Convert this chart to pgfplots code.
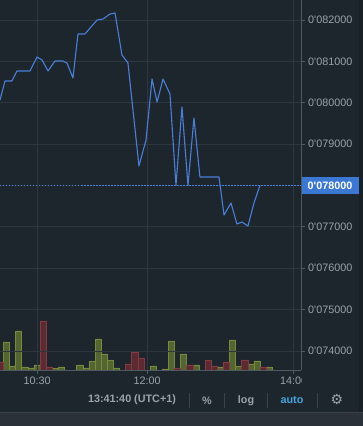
\documentclass[border=0pt]{standalone}
\usepackage{pgfplots}
\pgfplotsset{compat=1.18}
\usepackage{fontspec}
\setmainfont{Liberation Sans}[Ligatures=TeXOff]
\newfontfamily\dejavu{DejaVu Sans}
\definecolor{bgc}{HTML}{1E262D}
\definecolor{bandc}{HTML}{2A3138}
\definecolor{stripc}{HTML}{192026}
\definecolor{gridc}{HTML}{2D373F}
\definecolor{axisc}{HTML}{4F5962}
\definecolor{labc}{HTML}{9AA2AA}
\definecolor{linec}{HTML}{4A7FD8}
\definecolor{lastc}{HTML}{3A78D4}
\definecolor{autoc}{HTML}{45A5DE}
\definecolor{sepc}{HTML}{3A434B}
\definecolor{gfill}{HTML}{55652F}
\definecolor{gdraw}{HTML}{77893F}
\definecolor{rfill}{HTML}{5E2A31}
\definecolor{rdraw}{HTML}{823A43}
\begin{document}
\begin{tikzpicture}[x=1pt,y=1pt]
\fill[bgc] (0,0) rectangle (363,426);
\fill[stripc] (359,14) rectangle (363,426);
\fill[bandc] (0,0) rectangle (363,13.5);
\draw[sepc, line width=0.8pt] (0,13.5) -- (363,13.5);
% volume axis
\begin{axis}[
  at={(0pt,56pt)}, anchor=south west, scale only axis,
  width=301pt, height=370pt,
  xmin=599.7, xmax=846, ymin=0, ymax=370,
  axis lines=none, ticks=none, clip=true,
]
\addplot[ybar, bar width=5, bar shift=0pt, fill=gfill, draw=gdraw, line width=0.6pt] coordinates {
(605,28) (610,4) (615,39) (620,3) (625,2) (630,5) (645,1.5) (650,3)
(665,5) (670,2) (675,9) (680,31) (685,16) (690,10) (695,2)
(725,4) (735,1) (740,29) (750,16) (760,5) (780,3) (790,30) (795,4)
(805,6) (810,9) (820,3)
};
\addplot[ybar, bar width=5, bar shift=0pt, fill=rfill, draw=rdraw, line width=0.6pt] coordinates {
(600,8) (635,49) (640,3) (705,6) (710,18) (715,12) (745,2) (755,5)
(770,10) (775,4) (785,8) (800,10) (815,3)
};
\end{axis}
% price axis
\begin{axis}[
  at={(0pt,56pt)}, anchor=south west, scale only axis,
  width=301pt, height=370pt,
  xmin=599.7, xmax=846, ymin=0.0735408, ymax=0.0824834,
  axis x line*=bottom, axis y line*=right,
  axis line style={draw=axisc, line width=0.8pt, -},
  xtick={630,720,840}, xticklabels={10:30,12:00,14:00},
  ytick={0.074,0.075,0.076,0.077,0.078,0.079,0.080,0.081,0.082},
  yticklabels={0'074000,0'075000,0'076000,0'077000,0'078000,0'079000,0'080000,0'081000,0'082000},
  grid=major, major grid style={draw=gridc, line width=0.8pt},
  tick align=outside, major tick length=4pt,
  tick style={draw=axisc, line width=0.8pt},
  ticklabel style={font=\fontsize{10.8}{12}\selectfont, text=labc},
  yticklabel style={anchor=west, inner sep=0pt, xshift=3pt},
  xticklabel style={inner sep=0pt, yshift=-3pt},
  clip=true,
]
\addplot[linec, line width=0.7pt, dash pattern=on 1.5pt off 1.5pt] coordinates {(599.7,0.078) (846,0.078)};
\addplot[linec, line width=1.1pt, line join=round] coordinates {
(599.7,0.0800665) (603.8,0.0805257) (609.5,0.0805257) (613.6,0.0807674)
(624.2,0.0807674) (630.0,0.0811057) (634.1,0.0810332) (639.0,0.0807674)
(644.7,0.0810091) (651.2,0.0810091) (654.5,0.0809607) (659.4,0.0805982)
(663.5,0.0816616) (669.2,0.0816616) (679.1,0.0820000) (684.0,0.0820242)
(689.7,0.0821450) (693.8,0.0821692) (699.5,0.0811541) (704.4,0.0809607)
(713.4,0.0784713) (719.2,0.0790997) (724.1,0.0805740) (728.2,0.0800181)
(733.1,0.0805740) (738.8,0.0802115) (743.7,0.0780000) (748.6,0.0798973)
(753.5,0.0780000) (758.4,0.0796314) (763.3,0.0782054) (778.9,0.0782054)
(783.0,0.0772870) (788.7,0.0775770) (793.6,0.0770695) (797.7,0.0771178)
(802.6,0.0770211) (807.5,0.0775770) (812.4,0.0780000)
};
\end{axis}
% cover clipped part of the 14:00 label
\fill[bgc] (301.6,30) rectangle (358.5,54);
% last price label
\fill[lastc] (301.5,232) rectangle (358.5,249);
\node[anchor=west, inner sep=0pt, text=white, font=\bfseries\fontsize{10.8}{12}\selectfont] at (307.5,240.5) {0'078000};
% status bar
\node[text=labc, font=\bfseries\fontsize{10.8}{12}\selectfont] at (132,26) {13:41:40 (UTC+1)};
\foreach \sx in {189,224,267,317} {\draw[sepc, line width=0.8pt] (\sx,18) -- (\sx,33);}
\node[text=labc, font=\bfseries\fontsize{10.8}{12}\selectfont] at (207,25.5) {\%};
\node[text=labc, font=\bfseries\fontsize{10.8}{12}\selectfont] at (246,25.5) {log};
\node[text=autoc, font=\bfseries\fontsize{10.8}{12}\selectfont] at (292,25.5) {auto};
\node[text=labc, font=\dejavu\fontsize{14}{16}\selectfont] at (337,26) {⚙};
\pgfresetboundingbox
\useasboundingbox (0,0) rectangle (363,426);
\end{tikzpicture}
\end{document}
